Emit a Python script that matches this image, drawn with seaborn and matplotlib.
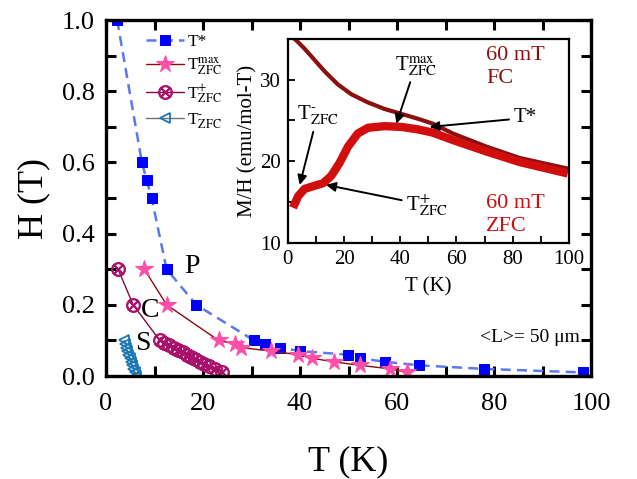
"""
H-T phase diagram with M/H inset (FC / ZFC at 60 mT)
"""
import numpy as np
import matplotlib
matplotlib.use('Agg')
import matplotlib.pyplot as plt
from matplotlib.ticker import MultipleLocator
import seaborn as sns

# ---- main panel data (T in K, H in T) ----
t_star_T = [2.3, 7.4, 8.4, 9.4, 12.5, 18.6, 30.5, 32.8, 35.9, 40.0, 49.9, 52.4, 57.5, 64.6, 77.9, 98.4]
t_star_H = [1.0, 0.6, 0.55, 0.5, 0.3, 0.2, 0.1, 0.09, 0.08, 0.07, 0.06, 0.05, 0.04, 0.03, 0.02, 0.01]

tmax_T = [7.9, 12.5, 23.2, 26.6, 27.8, 34.0, 39.6, 42.5, 46.9, 52.4, 58.6, 62.1]
tmax_H = [0.3, 0.2, 0.1, 0.09, 0.08, 0.07, 0.06, 0.05, 0.04, 0.03, 0.02, 0.01]

tplus_T = [2.5, 5.6, 11.1, 12.0, 13.0, 14.0, 14.8, 15.8, 16.6, 17.5, 18.4, 19.3, 20.3, 21.3, 22.4, 23.9]
tplus_H = [0.3, 0.2, 0.100, 0.093, 0.087, 0.080, 0.073, 0.067, 0.060, 0.053, 0.047, 0.040,
           0.033, 0.027, 0.020, 0.012]

tminus_T = [3.7, 3.9, 4.2, 4.4, 4.6, 4.9, 5.1, 5.4, 5.6, 5.9, 6.2]
tminus_H = [0.10, 0.09, 0.08, 0.07, 0.06, 0.05, 0.04, 0.03, 0.02, 0.01, 0.0]

# ---- inset data (T in K, M/H in emu/mol-T) ----
fc_T = [0.0, 2.4, 5.9, 9.5, 13.1, 17.8, 22.6, 28.5, 34.4, 40.4, 46.3, 51.6, 58.7, 70.6, 82.5, 99.6]
fc_M = [35.3, 35.0, 33.8, 32.4, 31.0, 29.4, 28.2, 27.2, 26.4, 25.8, 25.2, 24.6, 23.4, 21.8, 20.4, 19.1]

zfc_T = [1.8, 3.6, 5.9, 9.5, 12.5, 15.4, 18.4, 21.4, 24.9, 28.5, 34.4, 40.4, 46.3, 51.6, 58.7,
         70.6, 82.5, 99.6]
zfc_M = [14.3, 15.7, 16.6, 17.0, 17.3, 18.2, 19.8, 21.8, 23.4, 24.1, 24.3, 24.2, 23.9, 23.5, 22.6,
         21.2, 19.9, 18.5]

sns.set_style('ticks')
plt.rcParams['font.family'] = ['Liberation Serif', 'DejaVu Serif']
plt.rcParams['mathtext.fontset'] = 'stix'
plt.rcParams.update({'axes.edgecolor': 'black', 'xtick.color': 'black', 'ytick.color': 'black',
                     'text.color': 'black', 'axes.labelcolor': 'black'})

lbl_max = r'T$_{\rm ZFC}^{\rm max}$'
lbl_plus = r'T$_{\rm ZFC}^{+}$'
lbl_minus = r'T$_{\rm ZFC}^{\text{-}}$'

fig = plt.figure(figsize=(6.37, 4.79), dpi=100)
ax = fig.add_axes([0.1664, 0.215, 0.7616, 0.743])

sns.lineplot(x=t_star_T, y=t_star_H, ax=ax, sort=False, estimator=None,
             color='#5a78f0', linewidth=1.8, marker='s', markersize=7.5,
             markerfacecolor='#0000ff', markeredgecolor='#0000ff', label='T*')
ax.lines[-1].set_linestyle((0, (4, 2.5)))
sns.lineplot(x=tmax_T, y=tmax_H, ax=ax, sort=False, estimator=None,
             color='#8b0a0a', linewidth=1.0, marker='*', markersize=13,
             markerfacecolor='#ff4fa8', markeredgecolor='#ff4fa8', label=lbl_max)
sns.lineplot(x=tplus_T, y=tplus_H, ax=ax, sort=False, estimator=None,
             color='#7a0a45', linewidth=1.0, marker=r'$\otimes$', markersize=10,
             markerfacecolor='#a8106a', markeredgecolor='#a8106a', label=lbl_plus)
sns.lineplot(x=tminus_T, y=tminus_H, ax=ax, sort=False, estimator=None,
             color='#707070', linewidth=1.0, marker='<', markersize=7,
             markerfacecolor='none', markeredgecolor='#1a78b4', markeredgewidth=1.3,
             label=lbl_minus)

ax.set_xlim(0, 100)
ax.set_ylim(0, 1.0)
ax.xaxis.set_major_locator(MultipleLocator(20))
ax.xaxis.set_minor_locator(MultipleLocator(10))
ax.yaxis.set_major_locator(MultipleLocator(0.2))
ax.yaxis.set_minor_locator(MultipleLocator(0.1))
ax.yaxis.set_major_formatter(plt.FormatStrFormatter('%.1f'))
ax.tick_params(which='both', direction='in', top=True, right=True, width=2.2, length=7,
               labelsize=19)
ax.tick_params(axis='x', pad=12)
ax.tick_params(axis='y', pad=8)
for sp in ax.spines.values():
    sp.set_linewidth(2.4)
ax.set_xlabel('T (K)', fontsize=26, labelpad=22)
ax.set_ylabel('H (T)', fontsize=26, labelpad=8)

leg = ax.legend(loc='upper left', bbox_to_anchor=(0.06, 0.99), frameon=False, fontsize=12.5,
                handlelength=2.2, handletextpad=0.2, labelspacing=0.3, borderaxespad=0.2)

ax.text(17.7, 0.308, 'P', fontsize=20, ha='center', va='center')
ax.text(9.1, 0.185, 'C', fontsize=20, ha='center', va='center')
ax.text(7.5, 0.09, 'S', fontsize=20, ha='center', va='center')
ax.text(87.3, 0.108, '<L>= 50 μm', fontsize=14, ha='center', va='center')

# ---- inset ----
ins = fig.add_axes([0.452, 0.493, 0.441, 0.426])
ins.set_facecolor('white')
sns.lineplot(x=fc_T, y=fc_M, ax=ins, sort=False, estimator=None, color='#8b1010', linewidth=3.0)
sns.lineplot(x=zfc_T, y=zfc_M, ax=ins, sort=False, estimator=None, color='#d10d0d', linewidth=6.0,
             solid_capstyle='butt', solid_joinstyle='round')
ins.set_xlim(0, 100)
ins.set_ylim(10, 35)
ins.xaxis.set_major_locator(MultipleLocator(20))
ins.xaxis.set_minor_locator(MultipleLocator(10))
ins.yaxis.set_major_locator(MultipleLocator(10))
ins.yaxis.set_minor_locator(MultipleLocator(5))
ins.tick_params(which='both', direction='in', width=1.3, length=5, labelsize=15, pad=5)
for sp in ins.spines.values():
    sp.set_linewidth(1.6)
ins.set_xlabel('T (K)', fontsize=15, labelpad=6)
ins.set_ylabel('M/H (emu/mol-T)', fontsize=15, labelpad=2)

arrow = dict(arrowstyle='-|>', color='black', lw=1.4, mutation_scale=14, shrinkA=1, shrinkB=0)
ins.annotate(lbl_minus, xy=(4.2, 17.1), xytext=(10.5, 25.6), fontsize=15,
             ha='center', va='center', arrowprops=arrow)
ins.annotate(lbl_max, xy=(38.6, 24.6), xytext=(45.5, 31.7), fontsize=15,
             ha='center', va='center', arrowprops=arrow)
ins.annotate('T*', xy=(50.4, 24.2), xytext=(84.5, 25.3), fontsize=15,
             ha='center', va='center', arrowprops=arrow)
ins.annotate(lbl_plus, xy=(13.6, 17.1), xytext=(49.5, 14.6), fontsize=15,
             ha='center', va='center', arrowprops=arrow)
ins.text(70.5, 31.5, '60 mT\nFC', fontsize=16, color='#8b1010', ha='left', va='center',
         linespacing=1.3)
ins.text(70.5, 13.4, '60 mT\nZFC', fontsize=16, color='#d10d0d', ha='left', va='center',
         linespacing=1.3)

fig.savefig('out.png', dpi=100)
